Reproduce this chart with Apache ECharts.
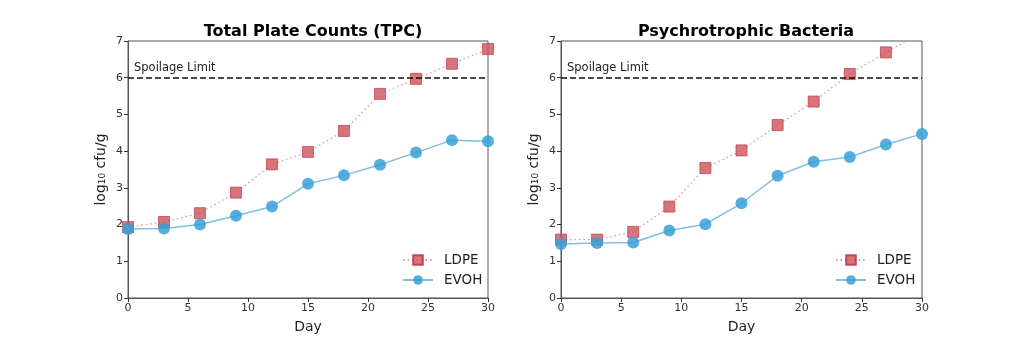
<!DOCTYPE html>
<html>
<head>
<meta charset="utf-8">
<script src="https://cdn.jsdelivr.net/npm/echarts@6/dist/echarts.min.js"></script>
<style>
  html, body { margin: 0; padding: 0; background: #ffffff; }
  #chart { width: 1024px; height: 341px; }
</style>
</head>
<body>
<div id="chart"></div>
<script>
// Storage days
const days = [0, 3, 6, 9, 12, 15, 18, 21, 24, 27, 30];

// Total plate counts, log10 cfu/g
const tpcLDPE = [1.93, 2.07, 2.31, 2.87, 3.64, 3.98, 4.55, 5.56, 5.97, 6.38, 6.78];
const tpcEVOH = [1.88, 1.89, 2.00, 2.24, 2.49, 3.11, 3.34, 3.63, 3.96, 4.30, 4.27];

// Psychrotrophic bacteria, log10 cfu/g
const psyLDPE = [1.59, 1.59, 1.80, 2.49, 3.54, 4.02, 4.71, 5.35, 6.10, 6.69, 7.25];
const psyEVOH = [1.47, 1.50, 1.51, 1.84, 2.01, 2.58, 3.33, 3.71, 3.84, 4.18, 4.47];

const panelTitles = ['Total Plate Counts (TPC)', 'Psychrotrophic Bacteria'];
const spoilageLimit = 6;
const spoilageLabel = 'Spoilage Limit';
const yName = 'log\u2081\u2080 cfu/g';
const xName = 'Day';

const FONT = 'DejaVu Sans';
const pairs = (xs, ys) => xs.map((x, i) => [x, ys[i]]);

const grids = [
  { left: 128, right: 536, top: 41, bottom: 43 },
  { left: 561, right: 102, top: 41, bottom: 43 }
];

function xAxis(i) {
  return {
    type: 'value', gridIndex: i, min: 0, max: 30, interval: 5,
    name: xName, nameLocation: 'middle', nameGap: 22,
    nameTextStyle: { fontFamily: FONT, fontSize: 14, color: '#222' },
    axisLine: { lineStyle: { color: '#555', width: 1 } },
    axisTick: { show: true, length: 4, lineStyle: { color: '#333' } },
    axisLabel: { fontFamily: FONT, fontSize: 11, color: '#333', margin: 5 },
    splitLine: { show: false }
  };
}

function yAxis(i) {
  return {
    type: 'value', gridIndex: i, min: 0, max: 7, interval: 1,
    name: yName, nameLocation: 'middle', nameGap: 20, nameRotate: 90,
    nameTextStyle: { fontFamily: FONT, fontSize: 14, color: '#222' },
    axisLine: { show: true, lineStyle: { color: '#555', width: 1 } },
    axisTick: { show: true, length: 4, lineStyle: { color: '#333' } },
    axisLabel: { fontFamily: FONT, fontSize: 11, color: '#333', margin: 5 },
    splitLine: { show: false }
  };
}

function ldpeSeries(i, values) {
  return {
    name: 'LDPE', type: 'line', xAxisIndex: i, yAxisIndex: i,
    data: pairs(days, values), clip: true,
    symbol: 'rect', symbolSize: 11,
    lineStyle: { color: '#e3959a', width: 1.3, type: [1.5, 3] },
    itemStyle: { color: 'rgba(208,85,95,0.82)', borderColor: 'rgba(190,60,70,0.9)', borderWidth: 0.8 },
    z: 3,
    markLine: {
      silent: true, symbol: 'none',
      lineStyle: { color: '#111', type: [6, 3], width: 1.6 },
      label: {
        show: true, position: 'insideStartTop', formatter: spoilageLabel,
        fontFamily: FONT, fontSize: 11.5, color: '#222', distance: [6, 4]
      },
      data: [{ yAxis: spoilageLimit }]
    }
  };
}

function evohSeries(i, values) {
  return {
    name: 'EVOH', type: 'line', xAxisIndex: i, yAxisIndex: i,
    data: pairs(days, values), clip: true,
    symbol: 'circle', symbolSize: 12,
    lineStyle: { color: '#7fbfdf', width: 1.5 },
    itemStyle: { color: 'rgba(55,160,215,0.85)' },
    z: 4
  };
}

function legend(left) {
  return {
    orient: 'vertical', left: left, top: 248, itemGap: 6,
    itemWidth: 30, itemHeight: 12,
    textStyle: { fontFamily: FONT, fontSize: 13.5, color: '#222', padding: [0, 0, 0, 6] },
    data: ['LDPE', 'EVOH'],
    selectedMode: false
  };
}

const chart = echarts.init(document.getElementById('chart'), null, { renderer: 'canvas' });
chart.setOption({
  animation: false,
  backgroundColor: '#ffffff',
  title: [
    { text: panelTitles[0], left: 308, top: 19, textAlign: 'center',
      textStyle: { fontFamily: FONT, fontSize: 16, fontWeight: 'bold', color: '#000' } },
    { text: panelTitles[1], left: 741, top: 19, textAlign: 'center',
      textStyle: { fontFamily: FONT, fontSize: 16, fontWeight: 'bold', color: '#000' } }
  ],
  legend: [legend(397), legend(830)],
  grid: grids.map(g => Object.assign({ show: true, borderColor: '#555', borderWidth: 1, backgroundColor: 'transparent' }, g)),
  xAxis: [xAxis(0), xAxis(1)],
  yAxis: [yAxis(0), yAxis(1)],
  series: [
    ldpeSeries(0, tpcLDPE), evohSeries(0, tpcEVOH),
    ldpeSeries(1, psyLDPE), evohSeries(1, psyEVOH)
  ]
});
</script>
</body>
</html>
